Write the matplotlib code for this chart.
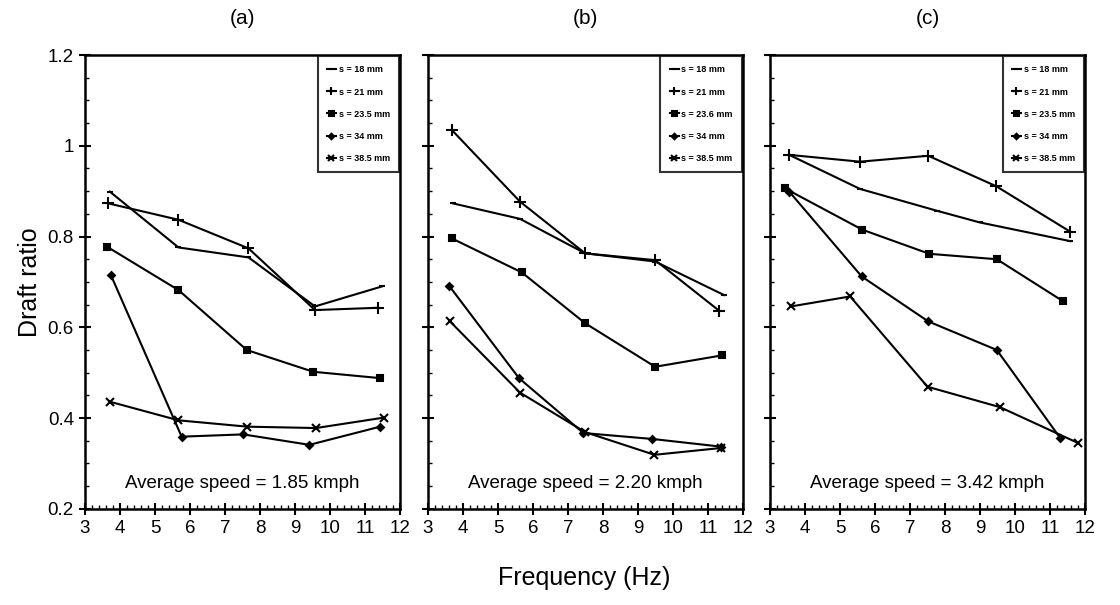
import matplotlib
matplotlib.use("Agg")
import matplotlib.pyplot as plt
from matplotlib.ticker import MultipleLocator

plt.rcParams['font.family'] = ['Liberation Sans', 'DejaVu Sans']

# spacing labels and the average speed for each panel
panel_tags = ['(a)', '(b)', '(c)']
speeds = ['1.85', '2.20', '3.42']
labels_a = ['s = 18 mm', 's = 21 mm', 's = 23.5 mm', 's = 34 mm', 's = 38.5 mm']
labels_b = ['s = 18 mm', 's = 21 mm', 's = 23.6 mm', 's = 34 mm', 's = 38.5 mm']
labels_c = ['s = 18 mm', 's = 21 mm', 's = 23.5 mm', 's = 34 mm', 's = 38.5 mm']

# frequency (Hz) per series, order: 18, 21, 23.5, 34, 38.5 mm
freq_a = [[3.71, 5.67, 7.67, 9.57, 11.48],
          [3.67, 5.67, 7.67, 9.57, 11.37],
          [3.62, 5.67, 7.62, 9.52, 11.43],
          [3.74, 5.76, 7.52, 9.41, 11.43],
          [3.71, 5.67, 7.64, 9.60, 11.54]]
ratio_a = [[0.899, 0.776, 0.754, 0.646, 0.690],
           [0.873, 0.837, 0.774, 0.638, 0.643],
           [0.778, 0.682, 0.550, 0.502, 0.488],
           [0.715, 0.359, 0.364, 0.341, 0.381],
           [0.436, 0.395, 0.381, 0.378, 0.401]]

freq_b = [[3.72, 5.63, 7.49, 9.49, 11.46],
          [3.68, 5.63, 7.49, 9.49, 11.31],
          [3.68, 5.68, 7.49, 9.49, 11.39],
          [3.61, 5.60, 7.44, 9.40, 11.37],
          [3.63, 5.63, 7.49, 9.47, 11.37]]
ratio_b = [[0.873, 0.839, 0.763, 0.745, 0.671],
           [1.035, 0.877, 0.763, 0.748, 0.637],
           [0.796, 0.721, 0.609, 0.513, 0.538],
           [0.691, 0.488, 0.367, 0.354, 0.337],
           [0.613, 0.456, 0.369, 0.319, 0.334]]

freq_c = [[3.55, 5.57, 7.76, 9.00, 11.57],
          [3.55, 5.57, 7.52, 9.46, 11.57],
          [3.43, 5.64, 7.55, 9.48, 11.36],
          [3.55, 5.62, 7.52, 9.48, 11.29],
          [3.60, 5.29, 7.50, 9.57, 11.80]]
ratio_c = [[0.980, 0.905, 0.857, 0.831, 0.790],
           [0.980, 0.965, 0.978, 0.911, 0.811],
           [0.906, 0.815, 0.762, 0.750, 0.658],
           [0.899, 0.712, 0.613, 0.550, 0.356],
           [0.646, 0.668, 0.469, 0.424, 0.345]]

markers = ['_', '+', 's', 'D', 'x']
msizes = [4, 8, 4.5, 3.5, 6]

fig = plt.figure(figsize=(11.2, 6.05), dpi=100)
lefts = [0.0759, 0.3821, 0.6875]
width = 0.2813
bottom, height = 0.159, 0.750

panels = [(freq_a, ratio_a, labels_a), (freq_b, ratio_b, labels_b), (freq_c, ratio_c, labels_c)]
for i, (freqs, ratios, labels) in enumerate(panels):
    ax = fig.add_axes([lefts[i], bottom, width, height])
    for x, y, lab, m, ms in zip(freqs, ratios, labels, markers, msizes):
        ax.plot(x, y, color='black', lw=1.5, marker=m, ms=ms, mew=1.5,
                mfc='black', mec='black', label=lab)
    ax.set_xlim(3, 12)
    ax.set_ylim(0.2, 1.2)
    ax.xaxis.set_major_locator(MultipleLocator(1))
    ax.xaxis.set_minor_locator(MultipleLocator(0.2))
    ax.yaxis.set_major_locator(MultipleLocator(0.2))
    ax.yaxis.set_minor_locator(MultipleLocator(0.05))
    ax.tick_params(which='major', direction='inout', length=9, width=1.5,
                   labelsize=13.5, top=False, right=False)
    ax.tick_params(which='minor', direction='in', length=3, width=1,
                   top=False, right=False)
    ax.set_yticks([0.2, 0.4, 0.6, 0.8, 1.0, 1.2])
    if i == 0:
        ax.set_yticklabels(['0.2', '0.4', '0.6', '0.8', '1', '1.2'])
    else:
        ax.set_yticklabels([])
    for sp in ax.spines.values():
        sp.set_linewidth(1.8)
    ax.set_title(panel_tags[i], fontsize=15, pad=22)
    ax.text(0.5, 0.055, 'Average speed = ' + speeds[i] + ' kmph',
            transform=ax.transAxes, ha='center', va='center', fontsize=13.5)
    leg = ax.legend(loc='upper right', frameon=True, fancybox=False,
                    edgecolor='black', handlelength=1.0, handletextpad=0.3,
                    borderpad=1.0, labelspacing=1.45, borderaxespad=0.15,
                    markerscale=0.8, prop={'size': 6.5, 'weight': 'bold'})
    leg.get_frame().set_linewidth(1.5)

fig.text(0.027, 0.534, 'Draft ratio', rotation=90, ha='center', va='center', fontsize=18)
fig.text(0.522, 0.045, 'Frequency (Hz)', ha='center', va='center', fontsize=18)

fig.savefig('out.png', dpi=100)
